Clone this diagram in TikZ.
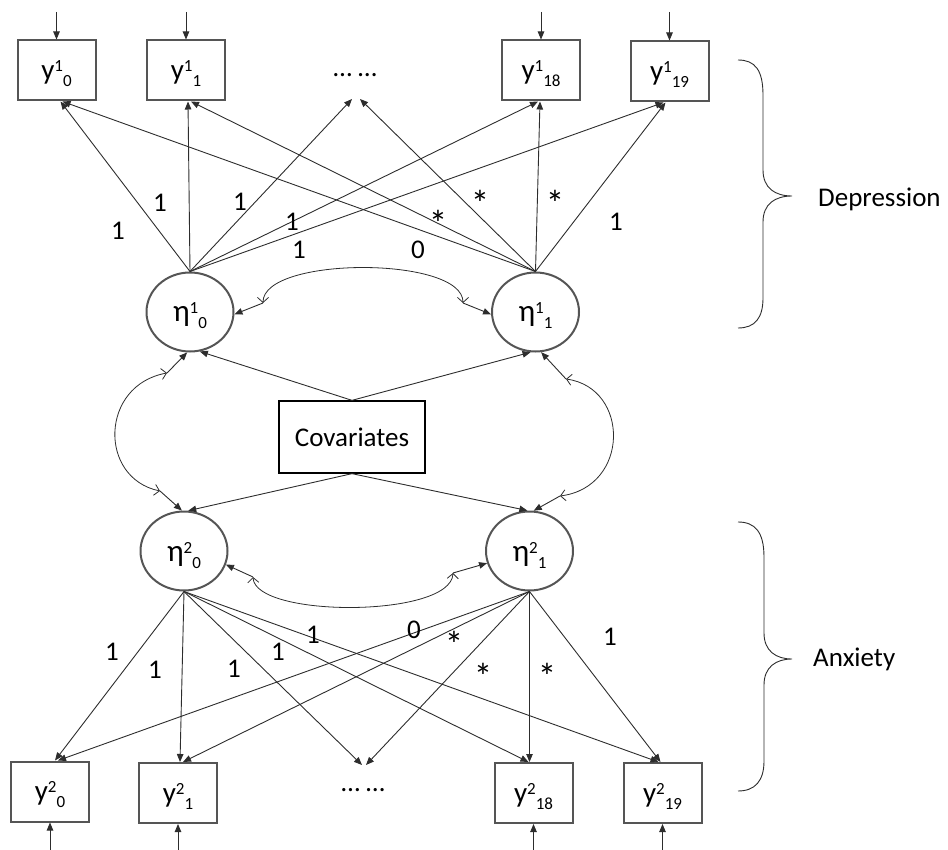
\documentclass[tikz,border=0pt]{standalone}
\usepackage{fontspec}
\setmainfont{Carlito}
\usetikzlibrary{arrows.meta,shapes.geometric}
\definecolor{boxgray}{RGB}{85,85,85}
\definecolor{linegray}{RGB}{45,45,45}
\newcommand{\myvar}[4]{{\fontsize{#4}{#4}\selectfont #1}\raisebox{8pt}{\fontsize{17}{17}\selectfont #2}\raisebox{-7pt}{\fontsize{17}{17}\selectfont #3}}
\begin{document}
\begin{tikzpicture}[x=1pt,y=-1pt,
  every node/.style={font=\fontsize{27}{32}\selectfont, inner sep=0pt},
  obs/.style={draw=boxgray, line width=2pt, minimum width=78pt, minimum height=60pt, text height=20pt, text depth=2pt},
  lat/.style={ellipse, draw=boxgray, line width=2pt, minimum width=87pt, minimum height=79pt, text height=22pt, text depth=2pt},
  conn/.style={draw=linegray, line width=0.9pt, -{Triangle[length=8pt,width=6.5pt]}},
  barb/.style={draw=linegray, line width=0.8pt, {Straight Barb[length=5pt,width=11pt]}-{Straight Barb[length=5pt,width=11pt]}},
  brace/.style={draw=linegray, line width=0.9pt},
  lab/.style={font=\fontsize{27}{32}\selectfont},
  starlab/.style={font=\fontsize{37}{40}\selectfont, yshift=-6pt}]
\useasboundingbox (0,0) rectangle (948,850);
% top observed
\node[obs] (y10) at (56.5,70.5) {\myvar{y}{1}{0}{29}};
\node[obs] (y11) at (186,70.5) {\myvar{y}{1}{1}{29}};
\node[obs] (y118) at (541,70.5) {\myvar{y}{1}{18}{29}};
\node[obs] (y119) at (669.5,71.5) {\myvar{y}{1}{19}{29}};
\node[anchor=base] (dtop) at (355,77) {… …};
\coordinate (dt) at (356,99);
% latent
\node[lat] (e10) at (190,312) {\myvar{η}{1}{0}{31}};
\node[lat] (e11) at (535.5,312) {\myvar{η}{1}{1}{31}};
\node[lat] (e20) at (184,551) {\myvar{η}{2}{0}{31}};
\node[lat] (e21) at (529.5,551) {\myvar{η}{2}{1}{31}};
% covariates
\node[draw=black, line width=1.3pt, minimum width=146pt, minimum height=72pt] (cov) at (352,437) {Covariates};
% bottom observed
\node[obs] (y20) at (50,791.5) {\myvar{y}{2}{0}{29}};
\node[obs] (y21) at (178,793) {\myvar{y}{2}{1}{29}};
\node[obs] (y218) at (533.5,793) {\myvar{y}{2}{18}{29}};
\node[obs] (y219) at (662.5,793) {\myvar{y}{2}{19}{29}};
\node[anchor=base] (dbot) at (363,791) {… …};
\coordinate (db) at (364,765);
% input arrows
\coordinate (i10) at (56.5,12);
\coordinate (i11) at (186,12);
\coordinate (i118) at (541,12);
\coordinate (i119) at (669.5,12);
\coordinate (i20) at (50,850);
\coordinate (i21) at (178,850);
\coordinate (i218) at (533.5,850);
\coordinate (i219) at (662.5,850);
\draw[conn] (i10) -- (y10.north);
\draw[conn] (i11) -- (y11.north);
\draw[conn] (i118) -- (y118.north);
\draw[conn] (i119) -- (y119.north);
\draw[conn] (i20) -- (y20.south);
\draw[conn] (i21) -- (y21.south);
\draw[conn] (i218) -- (y218.south);
\draw[conn] (i219) -- (y219.south);
% top loadings
\draw[conn] (e10.north) -- ([xshift=4pt]y10.south);
\draw[conn] (e10.north) -- ([xshift=2pt]y11.south);
\draw[conn] (e10.north) -- ([xshift=-4pt]dt);
\draw[conn] (e10.north) -- ([xshift=-3pt]y118.south);
\draw[conn] (e10.north) -- ([xshift=-6pt]y119.south);
\draw[conn] (e11.north) -- ([xshift=6pt]y10.south);
\draw[conn] (e11.north) -- ([xshift=5pt]y11.south);
\draw[conn] (e11.north) -- ([xshift=4pt]dt);
\draw[conn] (e11.north) -- ([xshift=-1pt]y118.south);
\draw[conn] (e11.north) -- ([xshift=-4pt]y119.south);
% bottom loadings
\draw[conn] (e20.south) -- ([xshift=5pt]y20.north);
\draw[conn] (e20.south) -- ([xshift=2pt]y21.north);
\draw[conn] (e20.south) -- ([xshift=-2pt]db);
\draw[conn] (e20.south) -- ([xshift=-5pt]y218.north);
\draw[conn] (e20.south) -- ([xshift=-4pt]y219.north);
\draw[conn] (e21.south) -- ([xshift=8pt]y20.north);
\draw[conn] (e21.south) -- ([xshift=5pt]y21.north);
\draw[conn] (e21.south) -- ([xshift=2pt]db);
\draw[conn] (e21.south) -- ([xshift=-4pt]y218.north);
\draw[conn] (e21.south) -- ([xshift=-2pt]y219.north);
% covariates paths
\draw[conn] (cov.north) -- (e10.-76);
\draw[conn] (cov.north) -- (e11.-97);
\draw[conn] (cov.south) -- (e20.84);
\draw[conn] (cov.south) -- (e21.93);
% covariances
\coordinate (ta) at (263,303);
\coordinate (tb) at (463,303);
\draw[barb] (ta) .. controls (263,256) and (463,256) .. (tb);
\draw[conn] (ta) -- (e10.-3);
\draw[conn] (tb) -- (e11.183);
\coordinate (ba) at (253,577);
\coordinate (bb) at (453,573);
\draw[barb] (ba) .. controls (255,618) and (451,618) .. (bb);
\draw[conn] (ba) -- (e20.-18);
\draw[conn] (bb) -- (e21.196);
\coordinate (la) at (167,373);
\coordinate (lb) at (160,491);
\draw[barb] (la) .. controls (100,385) and (98,478) .. (lb);
\draw[conn] (la) -- (e10.-94);
\draw[conn] (lb) -- (e20.93);
\coordinate (ra) at (566,379);
\coordinate (rb) at (560,496);
\draw[barb] (ra) .. controls (630,388) and (630,487) .. (rb);
\draw[conn] (ra) -- (e11.-82);
\draw[conn] (rb) -- (e21.84);
% labels top
\node[lab] (lt1) at (118,231) {1};
\node[lab] (lt2) at (160,203) {1};
\node[lab] (lt3) at (240,202) {1};
\node[lab] (lt4) at (292,222) {1};
\node[lab] (lt5) at (299,250) {1};
\node[lab] (lt6) at (418,250) {0};
\node[starlab] (lt7) at (438,217) {*};
\node[starlab] (lt8) at (480,197) {*};
\node[starlab] (lt9) at (555,197) {*};
\node[lab] (lt10) at (616,222) {1};
% labels bottom
\node[lab] (lb1) at (112,652) {1};
\node[lab] (lb2) at (155,670) {1};
\node[lab] (lb3) at (234,669) {1};
\node[lab] (lb4) at (278,652) {1};
\node[lab] (lb5) at (313,635) {1};
\node[lab] (lb6) at (414,630) {0};
\node[starlab] (lb7) at (454,638) {*};
\node[starlab] (lb8) at (483,670) {*};
\node[starlab] (lb9) at (547,670) {*};
\node[lab] (lb10) at (610,637) {1};
% braces
\draw[brace] (738,60) .. controls (755,60) and (763,70) .. (763,95) -- (763,170) .. controls (763,188) and (775,196) .. (792,196) .. controls (775,196) and (763,204) .. (763,222) -- (763,298) .. controls (763,318) and (755,328) .. (738,328);
\draw[brace] (738,522) .. controls (755,522) and (764,532) .. (764,557) -- (764,633) .. controls (764,651) and (776,659) .. (792,659) .. controls (776,659) and (764,667) .. (764,685) -- (764,761) .. controls (764,781) and (755,791) .. (738,791);
\node[anchor=base west] (dep) at (818,207) {Depression};
\node[anchor=base west] (anx) at (813,666) {Anxiety};
\end{tikzpicture}
\end{document}
